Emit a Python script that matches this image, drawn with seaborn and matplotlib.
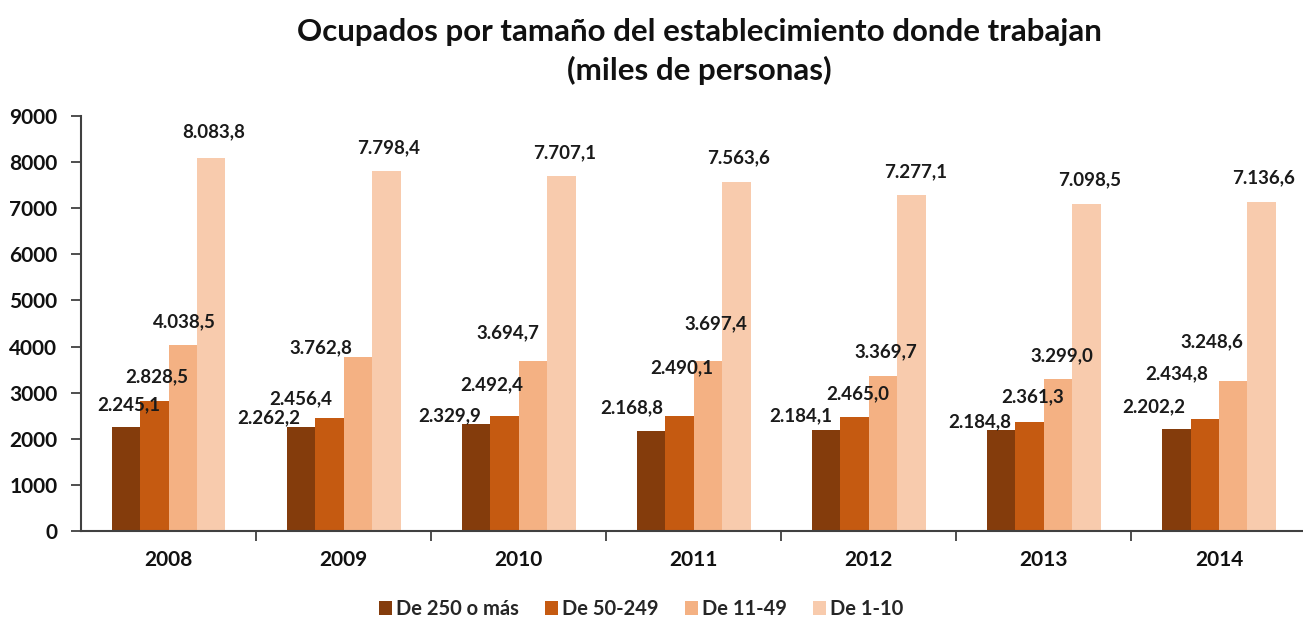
import matplotlib
matplotlib.use("Agg")
import matplotlib.pyplot as plt
import seaborn as sns
import pandas as pd
import numpy as np
from matplotlib.ticker import MultipleLocator, FixedLocator

# ---- data ----
years = ["2008", "2009", "2010", "2011", "2012", "2013", "2014"]
series = ["De 250 o más", "De 50-249", "De 11-49", "De 1-10"]
v_250 = [2245.1, 2262.2, 2329.9, 2168.8, 2184.1, 2184.8, 2202.2]
v_50 = [2828.5, 2456.4, 2492.4, 2490.1, 2465.0, 2361.3, 2434.8]
v_11 = [4038.5, 3762.8, 3694.7, 3697.4, 3369.7, 3299.0, 3248.6]
v_1 = [8083.8, 7798.4, 7707.1, 7563.6, 7277.1, 7098.5, 7136.6]
colors = ["#843C0C", "#C55A11", "#F4B183", "#F8CBAD"]

# label offsets (pixels, relative to bar top centre) – layout only
lab_dx = [
    [3, -32, -26, -19, -25, -21, -23],
    [2, -29, -13, 2, 3, 3, -28],
    [2, -37, -25, 8, 3, 4, -21],
    [2, 2, 3, 2, 4, 3, 2],
]
lab_dy = [
    [23, 9, 8, 23, 15, 9, 23],
    [24, 19, 31, 48, 24, 25, 45],
    [23, 10, 28, 37, 24, 23, 39],
    [26, 24, 23, 24, 24, 24, 24],
]

values = [v_250, v_50, v_11, v_1]
df = pd.DataFrame(
    [(y, s, v) for s, vals in zip(series, values) for y, v in zip(years, vals)],
    columns=["year", "size", "value"],
)

sns.set_theme(style="white")
plt.rcParams["font.family"] = ["Lato", "DejaVu Sans"]
plt.rcParams["font.weight"] = "bold"

fig = plt.figure(figsize=(13.03, 6.19), dpi=100)
ax = fig.add_axes([81 / 1303, 88 / 619, 1 - 81 / 1303, (531 - 116) / 619])

sns.barplot(
    data=df, x="year", y="value", hue="size", order=years, hue_order=series,
    palette=colors, saturation=1, width=0.65, ax=ax, legend=True,
    edgecolor="none", linewidth=0,
)

ax.set_ylim(0, 9000)
ax.set_xlim(-0.5, 6.48)
ax.yaxis.set_major_locator(MultipleLocator(1000))
ax.set_xlabel("")
ax.set_ylabel("")

for sp in ["top", "right"]:
    ax.spines[sp].set_visible(False)
for sp in ["left", "bottom"]:
    ax.spines[sp].set_color("#404040")
    ax.spines[sp].set_linewidth(1.5)

ax.tick_params(axis="y", which="major", direction="out", length=7, width=1.3,
               color="#404040", labelsize=15, pad=10, left=True)
ax.tick_params(axis="x", which="major", length=0, labelsize=15, pad=14)
ax.xaxis.set_minor_locator(FixedLocator(np.arange(0.5, 6.5, 1.0)))
ax.tick_params(axis="x", which="minor", direction="out", length=7, width=1.3,
               color="#404040", bottom=True)
for lbl in ax.get_xticklabels() + ax.get_yticklabels():
    lbl.set_fontweight("bold")
    lbl.set_color("#111111")

def fmt(v):
    s = f"{v:,.1f}"
    return s.replace(",", "X").replace(".", ",").replace("X", ".")

for si, cont in enumerate(ax.containers):
    for yi, bar in enumerate(cont):
        h = bar.get_height()
        xc = bar.get_x() + bar.get_width() / 2
        ax.annotate(fmt(h), (xc, h), xytext=(lab_dx[si][yi], lab_dy[si][yi]),
                    textcoords="offset pixels", ha="center", va="center",
                    fontsize=13.5, fontweight="bold", color="#1a1a1a")

leg = ax.get_legend()
handles, labels = ax.get_legend_handles_labels()
leg.remove()
fig.legend(handles, labels, loc="center", bbox_to_anchor=(641 / 1303, 1 - 609 / 619),
           ncol=4, frameon=False, handlelength=0.65, handleheight=0.65,
           handletextpad=0.2, columnspacing=1.3, prop={"weight": "bold", "size": 14.5})

fig.text(699 / 1303, 1 - 32 / 619, "Ocupados por tamaño del establecimiento donde trabajan",
         ha="center", va="center", fontsize=22.5, fontweight="bold", color="#111111")
fig.text(699 / 1303, 1 - 70 / 619, "(miles de personas)",
         ha="center", va="center", fontsize=22.5, fontweight="bold", color="#111111")

fig.savefig("out.png", dpi=100)
